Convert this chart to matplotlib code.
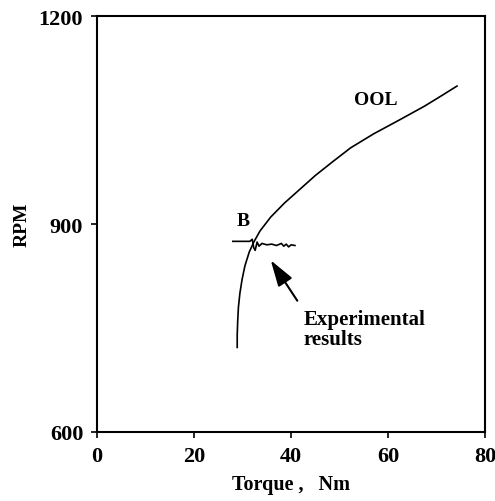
import matplotlib
matplotlib.use("Agg")
import matplotlib.pyplot as plt

# -----------------------------
# Data
# -----------------------------
ool_torque = [28.9, 28.9, 29.0, 29.15, 29.45, 29.9, 30.5, 31.4, 32.4, 33.6,
              35.8, 38.6, 41.8, 45.0, 48.6, 52.3, 57.0, 62.3, 67.5, 71.0, 74.2]
ool_rpm = [722, 740, 760, 780, 800, 820, 840, 860, 875, 890,
           910, 930, 950, 970, 990, 1010, 1030, 1050, 1070, 1085, 1099]

exp_torque = [28.0, 31.5, 32.0, 32.3, 32.6, 33.0, 33.4, 34.0, 35.0, 36.0,
              37.0, 38.0, 38.5, 39.0, 39.5, 40.0, 40.8]
exp_rpm = [875, 875, 878, 866, 862, 874, 868, 872, 870, 871,
           869, 872, 868, 871, 867, 870, 869]

x_ticks = [0, 20, 40, 60, 80]
y_ticks = [600, 900, 1200]

FONT = "Liberation Serif"

# -----------------------------
# Plot
# -----------------------------
fig = plt.figure(figsize=(4.95, 5.02), dpi=100)
ax = fig.add_axes([0.196, 0.1375, 0.784, 0.8285])

ax.plot(ool_torque, ool_rpm, color="black", linewidth=1.2)
ax.plot(exp_torque, exp_rpm, color="black", linewidth=1.2)

ax.text(28.8, 893, "B", fontsize=14, fontweight="bold", family=FONT,
        ha="left", va="bottom")
ax.text(53.0, 1068, "OOL", fontsize=14, fontweight="bold", family=FONT,
        ha="left", va="bottom")
ax.text(42.6, 778, "Experimental\nresults", fontsize=15, fontweight="bold",
        family=FONT, ha="left", va="top", linespacing=1.0)

ax.annotate("", xy=(35.5, 851), xytext=(41.6, 786),
            arrowprops=dict(arrowstyle="-|>,head_length=0.8,head_width=0.25",
                            mutation_scale=20, color="black", lw=1.5))

ax.set_xlim(0, 80)
ax.set_ylim(600, 1200)
ax.set_xticks(x_ticks)
ax.set_yticks(y_ticks)

for sp in ax.spines.values():
    sp.set_linewidth(1.5)

ax.tick_params(direction="out", length=4, width=1.2, pad=6)
for lab in ax.get_xticklabels() + ax.get_yticklabels():
    lab.set_family(FONT)
    lab.set_fontsize(16)
    lab.set_fontweight("bold")

ax.set_xlabel("Torque ,   Nm", fontsize=14.5, fontweight="bold", family=FONT, labelpad=6)
ax.set_ylabel("RPM", fontsize=14, fontweight="bold", family=FONT, labelpad=6)

fig.savefig("out.png", dpi=100)
